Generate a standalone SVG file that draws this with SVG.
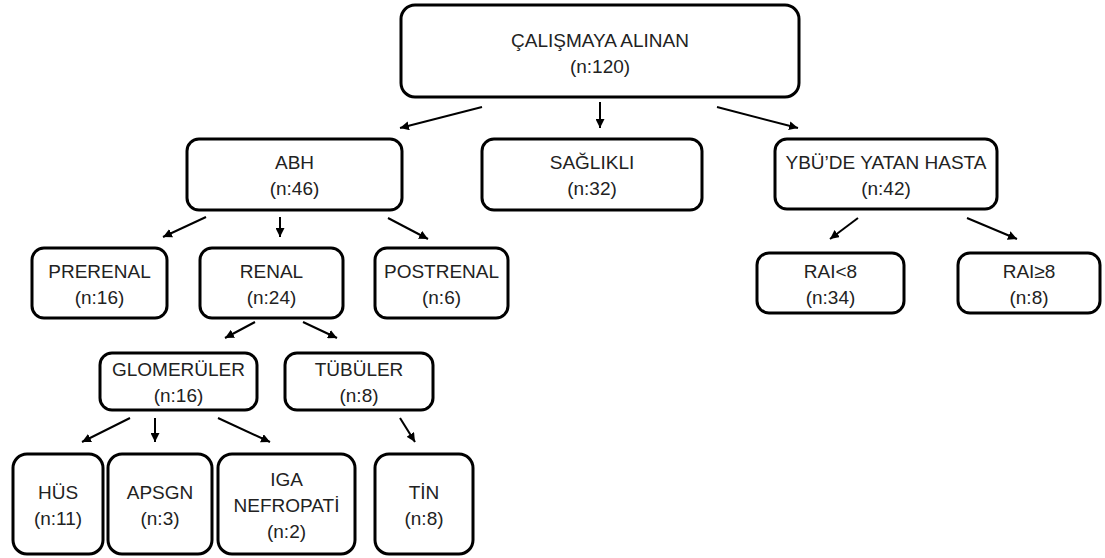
<svg xmlns="http://www.w3.org/2000/svg" width="1105" height="558" viewBox="0 0 1105 558">
<style>
.box{fill:#fff;stroke:#000;stroke-width:3}
text{font-family:"Liberation Sans",Arial,sans-serif;font-size:19px;fill:#222;text-anchor:middle}
.c line{stroke:#000;stroke-width:2;marker-end:url(#ah)}
</style>
<defs>
<marker id="ah" viewBox="0 0 10 10" refX="10" refY="5" markerWidth="4.5" markerHeight="4.5" orient="auto" markerUnits="strokeWidth">
<path d="M0,0 L10,5 L0,10 z" fill="#000"/>
</marker>
</defs>
<rect width="1105" height="558" fill="#fff"/>
<g class="c" id="connectors">
<line x1="482" y1="107" x2="400" y2="128"/>
<line x1="600" y1="102" x2="600" y2="128"/>
<line x1="717" y1="107" x2="798" y2="128"/>
<line x1="206" y1="217" x2="163" y2="237"/>
<line x1="280" y1="217" x2="280" y2="237"/>
<line x1="388" y1="218" x2="428" y2="239"/>
<line x1="255" y1="322" x2="225" y2="338"/>
<line x1="303" y1="322" x2="337" y2="338"/>
<line x1="130" y1="418" x2="82" y2="442"/>
<line x1="155" y1="418" x2="155" y2="442"/>
<line x1="218" y1="418" x2="270" y2="442"/>
<line x1="400" y1="418" x2="415" y2="442"/>
<line x1="858" y1="218" x2="830" y2="239"/>
<line x1="967" y1="218" x2="1017" y2="239"/>
</g>
<g id="n_top"><rect class="box" x="401" y="5" width="398" height="92" rx="14"/><text x="600" y="47">ÇALIŞMAYA ALINAN</text><text x="600" y="73">(n:120)</text></g>
<g id="n_abh"><rect class="box" x="187" y="139" width="215" height="71" rx="12"/><text x="294.5" y="169">ABH</text><text x="294.5" y="195">(n:46)</text></g>
<g id="n_saglikli"><rect class="box" x="482" y="139" width="220" height="71" rx="12"/><text x="592" y="169">SAĞLIKLI</text><text x="592" y="195">(n:32)</text></g>
<g id="n_ybu"><rect class="box" x="775" y="139" width="222" height="70" rx="12"/><text x="886" y="169">YBÜ’DE YATAN HASTA</text><text x="886" y="195">(n:42)</text></g>
<g id="n_prerenal"><rect class="box" x="32" y="248" width="135" height="70" rx="12"/><text x="99.5" y="278">PRERENAL</text><text x="99.5" y="304">(n:16)</text></g>
<g id="n_renal"><rect class="box" x="200" y="248" width="143" height="70" rx="12"/><text x="271.5" y="278">RENAL</text><text x="271.5" y="304">(n:24)</text></g>
<g id="n_postrenal"><rect class="box" x="375" y="248" width="133" height="70" rx="12"/><text x="441.5" y="278">POSTRENAL</text><text x="441.5" y="304">(n:6)</text></g>
<g id="n_glomeruler"><rect class="box" x="100" y="353" width="157" height="57" rx="12"/><text x="178.5" y="376">GLOMERÜLER</text><text x="178.5" y="402">(n:16)</text></g>
<g id="n_tubuler"><rect class="box" x="285" y="353" width="148" height="57" rx="12"/><text x="359" y="376">TÜBÜLER</text><text x="359" y="402">(n:8)</text></g>
<g id="n_hus"><rect class="box" x="13" y="454" width="90" height="100" rx="14"/><text x="58" y="499">HÜS</text><text x="58" y="525">(n:11)</text></g>
<g id="n_apsgn"><rect class="box" x="108" y="454" width="104" height="100" rx="14"/><text x="160" y="499">APSGN</text><text x="160" y="525">(n:3)</text></g>
<g id="n_iga"><rect class="box" x="218" y="454" width="137" height="100" rx="14"/><text x="286.5" y="486">IGA</text><text x="286.5" y="512">NEFROPATİ</text><text x="286.5" y="538">(n:2)</text></g>
<g id="n_tin"><rect class="box" x="375" y="454" width="98" height="100" rx="14"/><text x="424" y="499">TİN</text><text x="424" y="525">(n:8)</text></g>
<g id="n_rai_lt"><rect class="box" x="757" y="253" width="147" height="60" rx="12"/><text x="830.5" y="278">RAI&lt;8</text><text x="830.5" y="304">(n:34)</text></g>
<g id="n_rai_ge"><rect class="box" x="958" y="253" width="142" height="60" rx="12"/><text x="1029" y="278">RAI≥8</text><text x="1029" y="304">(n:8)</text></g>
</svg>
